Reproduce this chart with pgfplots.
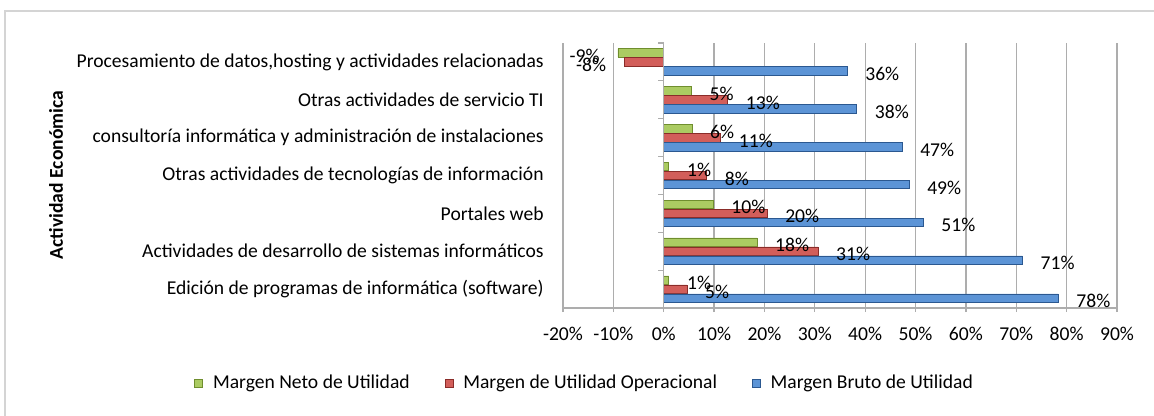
\documentclass[border=0pt]{standalone}
\usepackage{fontspec}
\setmainfont{Carlito}
\usepackage{pgfplots}
\pgfplotsset{compat=1.18}

\definecolor{gFill}{HTML}{ABCB62}
\definecolor{gBot}{HTML}{6F8E2E}
\definecolor{rFill}{HTML}{D25E5A}
\definecolor{rBot}{HTML}{8A2C29}
\definecolor{bFill}{HTML}{5C94D6}
\definecolor{bBot}{HTML}{2B5890}
\definecolor{gridgray}{HTML}{ADADAD}
\definecolor{framegray}{HTML}{D4D4D4}

\begin{document}
\fontsize{9.8}{11.8}\selectfont
\begin{tikzpicture}
\path[use as bounding box] (0,0) rectangle (577pt,-208pt);
\draw[framegray, line width=1pt] (2.5pt,-208pt) -- (2.5pt,-5.5pt) -- (577pt,-5.5pt);
\node[rotate=90, font=\fontsize{9.8}{11.8}\selectfont\bfseries] at (28pt,-87.5pt) {Actividad Económica};
\begin{axis}[
    at={(281.5pt,-154pt)}, anchor=south west,
    scale only axis, width=277pt, height=132.5pt,
    xmin=-20, xmax=90, ymin=-0.5, ymax=6.5,
    clip=false,
    xbar, bar width=4.25pt,
    axis x line*=bottom, axis y line*=left,
    x axis line style={gridgray, line width=0.6pt},
    y axis line style={draw=none},
    xtick={-20,-10,...,90},
    xticklabel={\pgfmathprintnumber{\tick}\%},
    ytick={0,...,6},
    yticklabels={
        Edición de programas de informática (software),
        Actividades de desarrollo de sistemas informáticos,
        Portales web,
        Otras actividades de tecnologías de información,
        consultoría informática y administración de instalaciones,
        Otras actividades de servicio TI,
        {Procesamiento de datos,hosting y actividades relacionadas}},
    tick align=outside, major tick length=2pt,
    xtick style={gridgray, line width=0.6pt},
    ytick style={draw=none},
    xmajorgrids, grid style={gridgray, line width=0.6pt},
    /pgf/number format/assume math mode=true,
    tick label style={font=\fontsize{9.8}{11.8}\selectfont},
    xticklabel style={yshift=-4pt},
    yticklabel style={inner sep=0pt, xshift=-7.5pt},
    point meta=explicit,
    nodes near coords={\pgfmathprintnumber{\pgfplotspointmeta}\%},
    nodes near coords align={horizontal},
    every node near coord/.append style={font=\fontsize{9.8}{11.8}\selectfont,
        black, inner xsep=9pt, inner ysep=0pt, yshift=-1.5pt},
    legend columns=3,
    legend style={draw=none, fill=none, inner sep=0pt,
        at={(axis description cs:-0.666,-0.283)}, anchor=west,
        font=\fontsize{9.8}{11.8}\selectfont,
        nodes={inner sep=0pt},
        /tikz/every odd column/.append style={column sep=5pt},
        /tikz/every even column/.append style={column sep=17.5pt}},
    legend image code/.code={\draw[#1] (0pt,-2pt) rectangle (4pt,2pt);},
]
\addplot[bar shift=4.5pt, draw=gBot, line width=0.3pt, fill=gFill] coordinates {
(1.0,0) [1] (18.5,1) [18] (9.8,2) [10] (1.0,3) [1] (5.6,4) [6] (5.5,5) [5] (-9.1,6) [-9]
};
\addlegendentry{Margen Neto de Utilidad}
\addplot[bar shift=0pt, draw=rBot, line width=0.3pt, fill=rFill] coordinates {
(4.6,0) [5] (30.6,1) [31] (20.5,2) [20] (8.5,3) [8] (11.3,4) [11] (12.7,5) [13] (-7.8,6) [-8]
};
\addlegendentry{Margen de Utilidad Operacional}
\addplot[bar shift=-4.5pt, draw=bBot, line width=0.3pt, fill=bFill] coordinates {
(78.3,0) [78] (71.2,1) [71] (51.5,2) [51] (48.7,3) [49] (47.3,4) [47] (38.3,5) [38] (36.4,6) [36]
};
\addlegendentry{Margen Bruto de Utilidad}
\draw[gridgray, line width=0.6pt] (axis cs:0,-0.5) -- (axis cs:0,6.5);
\pgfplotsinvokeforeach{-0.5,0.5,1.5,2.5,3.5,4.5,5.5,6.5}{
  \draw[gridgray, line width=0.6pt] (axis cs:0,#1) -- ++(-3pt,0pt);
}
\end{axis}
\end{tikzpicture}
\end{document}
